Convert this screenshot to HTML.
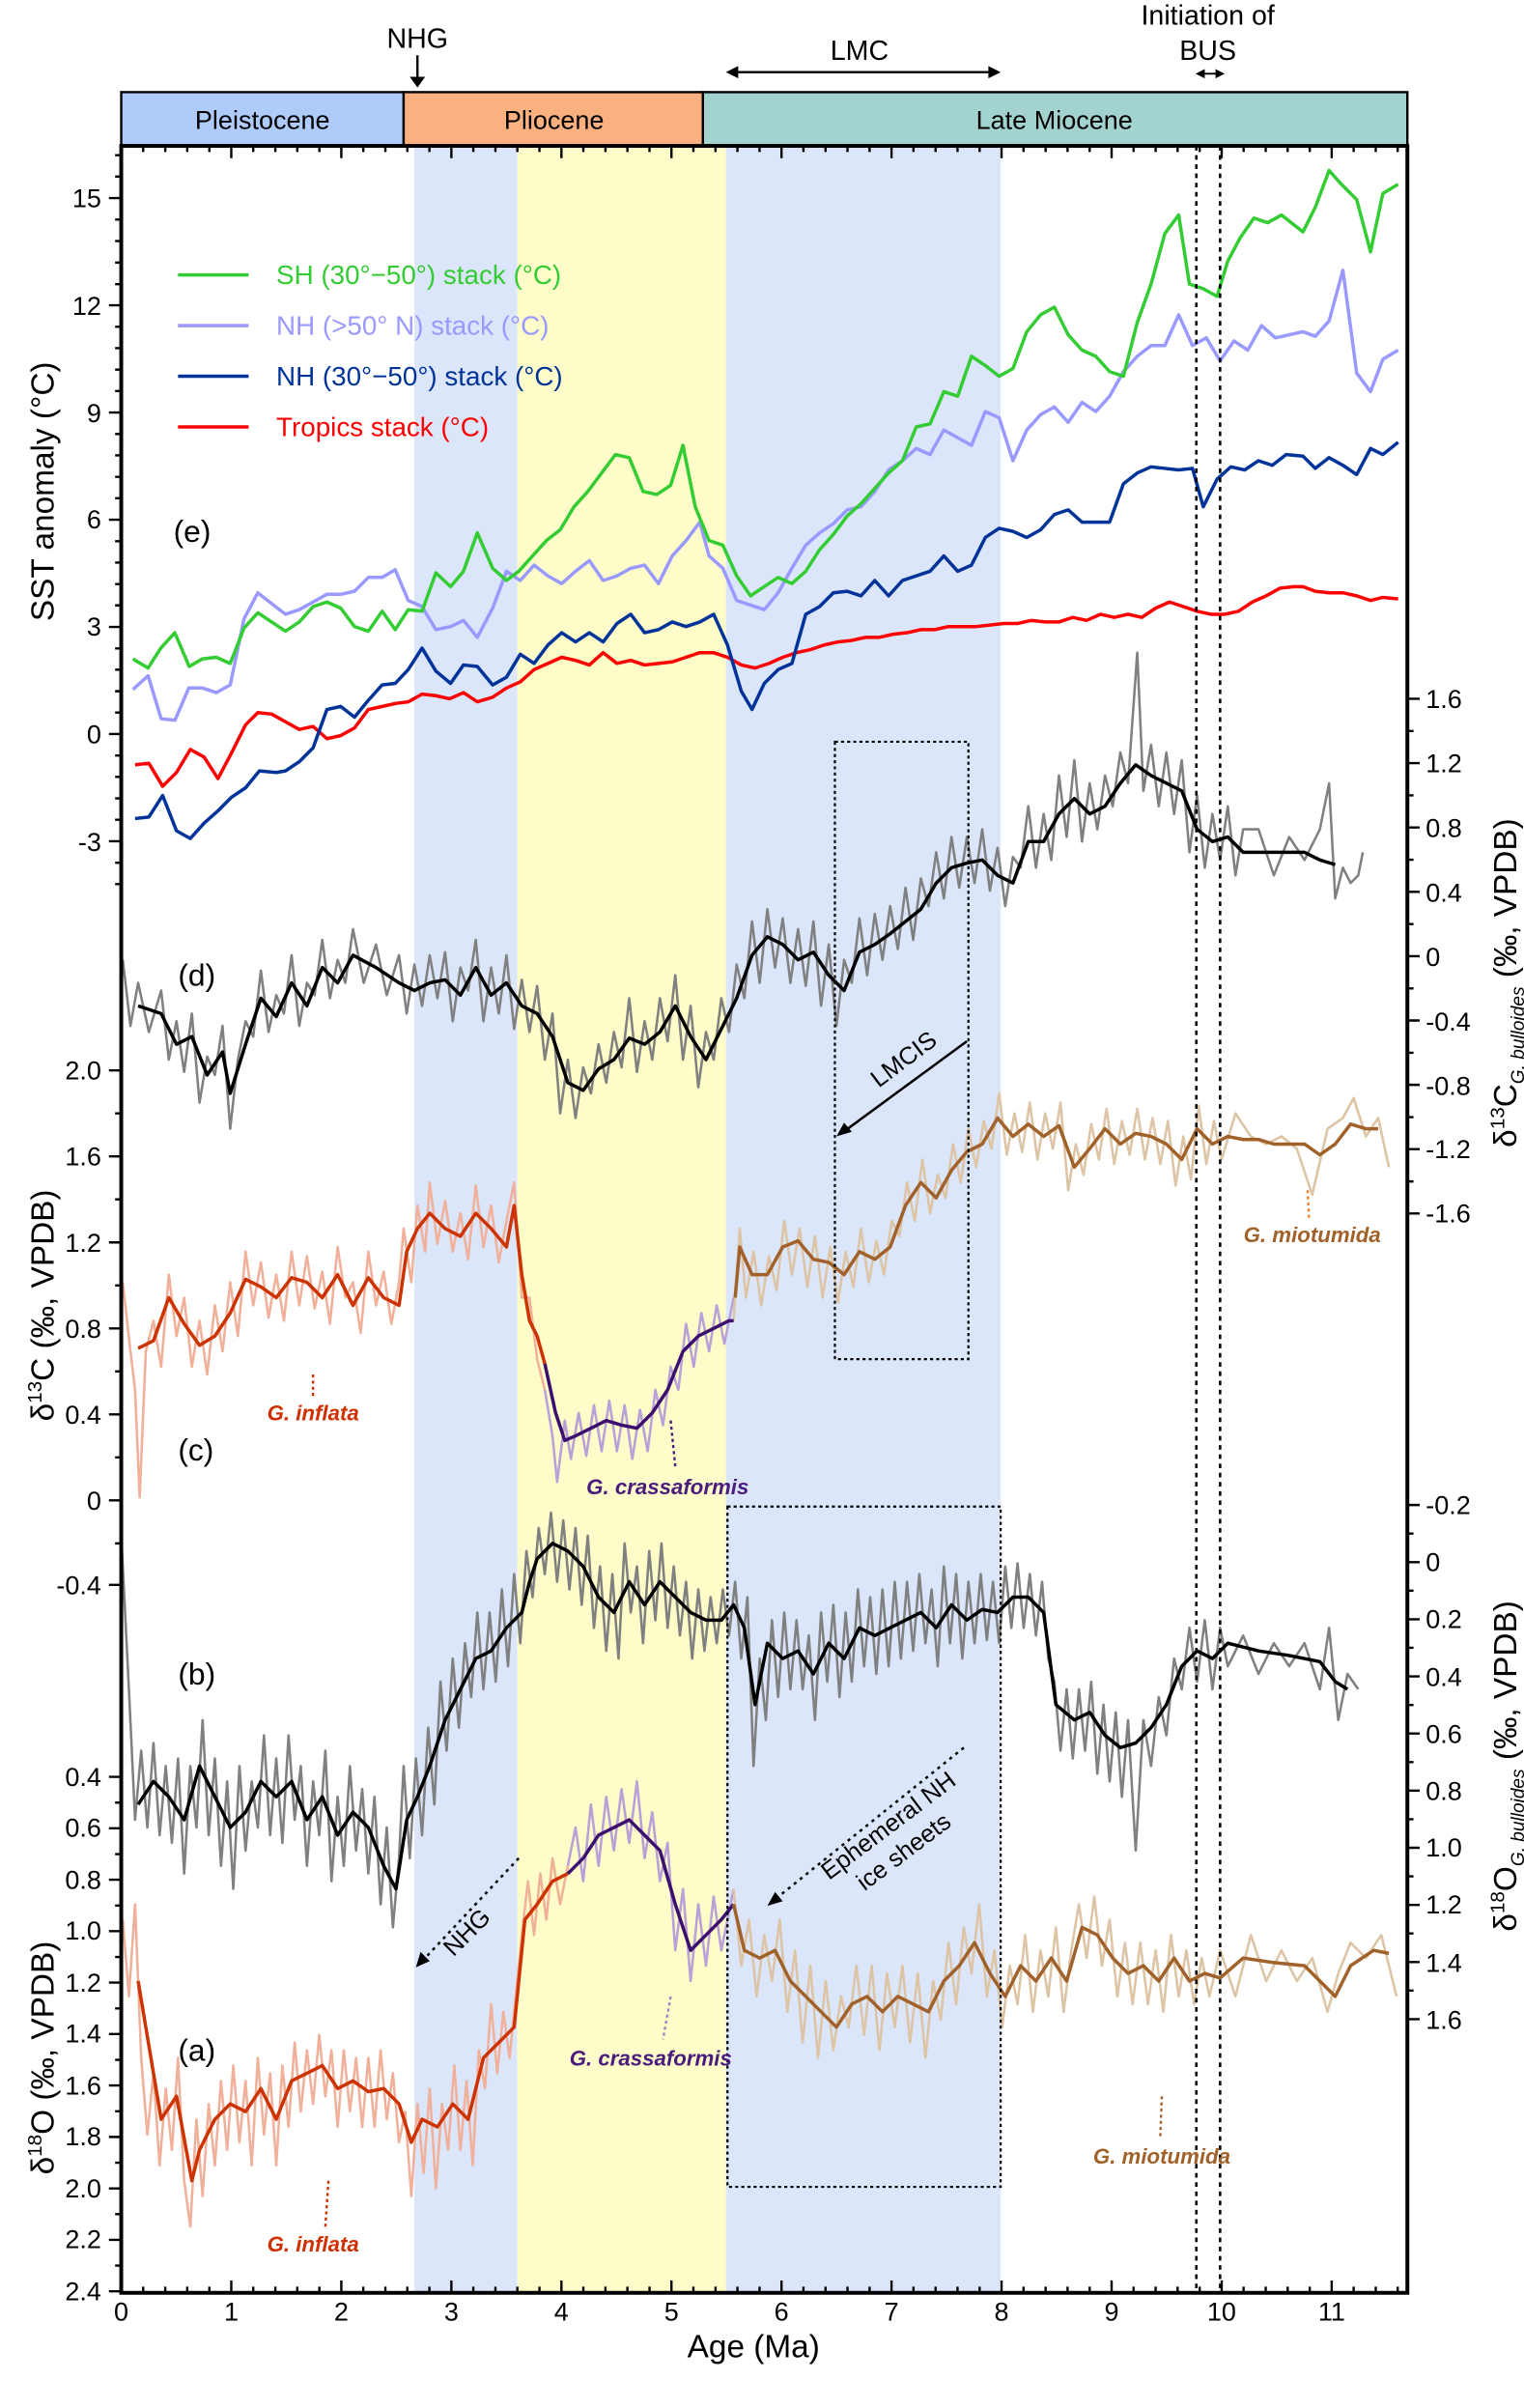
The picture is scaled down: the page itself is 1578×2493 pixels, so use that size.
<!DOCTYPE html>
<html><head><meta charset="utf-8"><style>
html,body{margin:0;padding:0;background:#fff;}
svg{display:block;font-family:"Liberation Sans",Arial,sans-serif;}
</style></head><body>
<svg width="1578" height="2493" viewBox="0 0 993 1568" preserveAspectRatio="none" xmlns="http://www.w3.org/2000/svg">
<rect width="993" height="1568" fill="#fff"/>
<rect x="270" y="95" width="67" height="1398" fill="#dce6fb"/>
<rect x="337" y="95" width="136" height="1398" fill="#fefdc9"/>
<rect x="473" y="95" width="179" height="1398" fill="#dce6fb"/>

<g fill="none" stroke-linejoin="round">
<path stroke="#808080" stroke-width="1.6" d="M80,625 L85,668 L90,640 L97,672 L105,645 L110,690 L115,665 L120,698 L125,660 L130,718 L135,688 L140,700 L145,668 L150,735 L155,690 L160,665 L165,675 L170,632 L175,672 L180,648 L185,660 L190,622 L195,668 L200,640 L205,648 L210,612 L215,650 L220,625 L225,640 L230,605 L237,640 L245,615 L252,648 L260,622 L265,660 L270,628 L275,655 L280,622 L285,650 L290,620 L295,665 L300,630 L305,645 L310,612 L315,665 L320,630 L325,660 L330,622 L335,670 L340,638 L345,672 L350,642 L355,690 L360,660 L365,725 L370,690 L375,728 L380,695 L385,712 L390,680 L395,705 L400,672 L405,695 L410,650 L415,698 L420,665 L425,690 L430,650 L435,678 L440,635 L445,690 L450,655 L455,708 L460,672 L465,690 L470,650 L475,672 L480,628 L485,650 L490,600 L495,640 L500,592 L505,630 L510,598 L515,640 L520,605 L525,642 L530,600 L535,655 L540,615 L545,668 L550,625 L555,640 L560,598 L565,635 L570,595 L575,625 L580,590 L585,618 L590,578 L595,612 L600,572 L605,590 L610,555 L615,585 L620,545 L625,578 L630,545 L635,575 L640,540 L645,580 L650,552 L655,590 L660,558 L665,565 L670,525 L675,565 L680,530 L685,560 L690,505 L695,545 L700,495 L705,548 L710,510 L715,540 L720,505 L725,525 L730,490 L735,510 L741,425 L745,515 L750,485 L755,525 L760,490 L765,530 L770,495 L775,555 L780,518 L785,565 L790,530 L795,560 L800,525 L805,570 L810,540 L820,540 L830,570 L840,545 L850,560 L860,540 L866,510 L870,585 L875,565 L880,575 L885,570 L888,555"/>
<path stroke="#000" stroke-width="2.2" d="M90,655 L105,660 L115,680 L125,675 L135,700 L145,685 L150,712 L160,680 L170,650 L180,662 L190,640 L200,655 L210,630 L220,640 L230,622 L245,630 L260,640 L270,645 L280,640 L290,638 L300,648 L310,630 L320,648 L330,640 L340,655 L350,660 L360,675 L370,705 L380,710 L390,696 L400,690 L410,676 L420,680 L430,672 L440,655 L450,675 L460,690 L470,670 L480,650 L490,622 L500,610 L510,615 L520,625 L530,620 L540,635 L550,645 L560,620 L570,615 L580,608 L590,600 L600,592 L610,575 L620,565 L630,562 L640,560 L650,570 L660,575 L670,548 L680,548 L690,530 L700,520 L710,530 L720,525 L730,510 L740,498 L750,505 L760,510 L770,515 L780,540 L790,548 L800,545 L810,555 L830,555 L850,555 L860,560 L870,563"/>
<path stroke="#f0b09a" stroke-width="1.6" d="M80,835 L85,880 L88,905 L91,975 L95,880 L100,860 L105,890 L110,830 L115,870 L120,845 L125,890 L130,860 L135,895 L140,850 L145,880 L150,835 L155,870 L160,815 L165,850 L170,822 L175,858 L180,830 L185,860 L190,815 L195,850 L200,818 L205,852 L210,828 L215,862 L220,812 L225,845 L230,835 L235,868 L240,815 L245,850 L250,828 L255,862 L260,835 L263,800 L268,835 L272,785 L277,815 L280,770 L285,810 L290,782 L295,815 L300,790 L305,820 L310,772 L315,812 L320,785 L325,822 L330,795 L335,770 L340,845 L345,845 L350,885 L355,905"/>
<path stroke="#b8a0d8" stroke-width="1.6" d="M355,905 L360,935 L363,965 L368,925 L372,950 L377,920 L382,948 L387,915 L392,945 L397,912 L402,945 L407,915 L412,950 L417,918 L422,945 L427,905 L432,928 L437,890 L442,905 L447,862 L452,890 L457,855 L462,880 L467,850 L472,875 L478,845"/>
<path stroke="#dcc4a4" stroke-width="1.6" d="M478,860 L482,800 L486,845 L491,815 L496,850 L501,818 L506,840 L511,795 L516,830 L521,800 L526,838 L531,805 L536,845 L541,812 L546,848 L551,815 L556,838 L561,800 L566,835 L571,808 L576,830 L581,795 L586,805 L591,770 L596,795 L601,755 L606,790 L611,765 L616,780 L621,745 L626,770 L631,735 L636,760 L641,730 L646,748 L651,712 L656,752 L661,725 L666,750 L671,718 L676,755 L681,725 L686,748 L691,718 L696,775 L701,745 L706,765 L711,732 L716,755 L721,722 L726,758 L731,730 L736,752 L741,722 L746,755 L751,728 L756,758 L761,730 L766,772 L771,740 L776,768 L781,720 L786,758 L791,730 L796,755 L805,725 L815,740 L825,745 L835,740 L845,748 L855,778 L865,735 L875,728 L882,715 L890,740 L898,728 L905,760"/>
<path stroke="#cc3300" stroke-width="2.2" d="M90,878 L100,873 L110,845 L120,862 L130,876 L140,870 L150,855 L160,833 L170,838 L180,845 L190,832 L200,835 L210,845 L220,830 L230,850 L240,832 L250,845 L260,850 L265,815 L272,800 L280,790 L290,800 L300,805 L310,790 L320,800 L330,812 L335,785 L340,830 L345,860 L350,870 L355,888"/>
<path stroke="#3d1070" stroke-width="2.2" d="M355,888 L362,920 L368,938 L375,935 L385,930 L395,925 L405,928 L415,930 L425,920 L435,905 L445,880 L455,870 L465,865 L475,860 L478,860"/>
<path stroke="#a0622a" stroke-width="2.2" d="M479,845 L482,812 L490,830 L500,830 L510,812 L520,808 L530,820 L540,822 L550,830 L560,815 L570,820 L580,812 L590,785 L600,770 L610,780 L620,762 L630,750 L640,745 L650,728 L660,740 L670,732 L680,740 L690,733 L700,760 L710,748 L720,735 L730,745 L740,738 L750,740 L760,745 L770,755 L780,735 L790,745 L800,740 L810,742 L820,742 L830,745 L840,745 L850,745 L860,752 L870,745 L880,732 L890,735 L898,735"/>
<path stroke="#808080" stroke-width="1.6" d="M79,1000 L84,1100 L88,1185 L92,1140 L96,1190 L100,1135 L104,1195 L108,1150 L112,1200 L116,1145 L120,1220 L124,1150 L128,1190 L132,1120 L136,1195 L140,1145 L144,1215 L148,1160 L152,1230 L156,1150 L160,1205 L164,1160 L168,1190 L172,1130 L176,1195 L180,1145 L184,1200 L188,1130 L192,1185 L196,1150 L200,1215 L204,1160 L208,1195 L212,1140 L216,1225 L220,1170 L224,1215 L228,1150 L232,1205 L236,1165 L240,1220 L244,1170 L248,1240 L252,1190 L256,1255 L260,1210 L263,1150 L267,1210 L271,1145 L275,1195 L279,1125 L283,1175 L287,1095 L291,1140 L295,1080 L299,1125 L303,1070 L307,1105 L311,1050 L315,1100 L319,1050 L323,1095 L327,1035 L331,1085 L335,1025 L339,1070 L343,1010 L347,1040 L351,995 L355,1025 L359,985 L363,1030 L367,990 L371,1035 L375,995 L379,1045 L383,1000 L387,1060 L391,1020 L395,1075 L399,1025 L403,1080 L407,1005 L411,1050 L415,1020 L419,1070 L423,1010 L427,1055 L431,1005 L435,1060 L439,1020 L443,1065 L447,1030 L451,1080 L455,1035 L459,1075 L463,1040 L467,1070 L471,1035 L475,1065 L479,1030 L483,1080 L487,1040 L491,1150 L495,1080 L499,1120 L503,1055 L507,1105 L511,1050 L515,1100 L519,1055 L523,1100 L527,1065 L531,1120 L535,1050 L539,1095 L543,1045 L547,1105 L551,1050 L555,1095 L559,1035 L563,1085 L567,1040 L571,1090 L575,1035 L579,1085 L583,1030 L587,1080 L591,1030 L595,1075 L599,1025 L603,1070 L607,1035 L611,1085 L615,1020 L619,1070 L623,1025 L627,1080 L631,1030 L635,1070 L639,1025 L643,1068 L647,1030 L651,1070 L655,1020 L659,1060 L663,1018 L667,1060 L671,1025 L675,1065 L679,1030 L683,1080 L687,1095 L691,1140 L695,1100 L699,1145 L703,1100 L707,1140 L711,1095 L715,1155 L719,1110 L723,1160 L727,1115 L731,1170 L735,1120 L740,1205 L745,1120 L750,1150 L755,1105 L760,1130 L765,1080 L770,1100 L775,1060 L780,1095 L785,1055 L790,1100 L795,1060 L800,1085 L810,1065 L820,1090 L830,1070 L840,1085 L850,1070 L860,1100 L866,1060 L872,1120 L878,1090 L885,1100"/>
<path stroke="#000" stroke-width="2.2" d="M90,1175 L100,1160 L110,1170 L120,1185 L130,1150 L140,1170 L150,1190 L160,1180 L170,1160 L180,1170 L190,1160 L200,1185 L210,1170 L220,1195 L230,1180 L240,1190 L250,1215 L258,1230 L265,1185 L272,1170 L280,1150 L290,1120 L300,1100 L310,1080 L320,1075 L330,1060 L340,1050 L345,1030 L350,1015 L360,1005 L370,1010 L380,1020 L390,1040 L400,1050 L410,1030 L420,1045 L430,1030 L440,1040 L450,1050 L460,1055 L470,1055 L478,1045 L485,1060 L492,1110 L500,1070 L510,1080 L520,1075 L530,1090 L540,1070 L550,1080 L560,1060 L570,1065 L580,1060 L590,1055 L600,1050 L610,1060 L620,1045 L630,1055 L640,1048 L650,1050 L660,1040 L670,1040 L680,1050 L688,1110 L700,1120 L710,1115 L720,1130 L730,1138 L740,1135 L750,1125 L760,1110 L770,1085 L780,1075 L790,1080 L800,1070 L820,1075 L840,1078 L860,1082 L870,1095 L878,1100"/>
<path stroke="#f0b09a" stroke-width="1.6" d="M80,1250 L84,1300 L88,1240 L92,1340 L96,1390 L100,1350 L104,1410 L108,1360 L112,1400 L116,1340 L120,1420 L124,1450 L128,1380 L132,1430 L136,1370 L140,1410 L144,1355 L148,1400 L152,1345 L156,1395 L160,1355 L164,1410 L168,1340 L172,1390 L176,1350 L180,1410 L184,1345 L188,1385 L192,1330 L196,1375 L200,1335 L204,1370 L208,1325 L212,1365 L216,1335 L220,1385 L224,1335 L228,1375 L232,1340 L236,1385 L240,1340 L244,1385 L248,1335 L252,1380 L256,1350 L260,1395 L264,1375 L268,1430 L272,1370 L276,1415 L280,1360 L284,1425 L288,1370 L292,1400 L296,1345 L300,1400 L304,1355 L308,1410 L312,1335 L316,1360 L320,1305 L324,1350 L328,1310 L332,1340 L336,1300 L340,1260 L344,1225 L348,1260 L352,1220 L356,1250 L360,1210 L365,1240 L370,1215"/>
<path stroke="#b8a0d8" stroke-width="1.6" d="M370,1215 L375,1190 L380,1225 L385,1175 L390,1215 L395,1170 L400,1205 L405,1165 L410,1200 L415,1160 L420,1210 L425,1180 L430,1225 L435,1200 L440,1270 L445,1230 L450,1290 L455,1240 L460,1280 L465,1235 L470,1270 L478,1230"/>
<path stroke="#dcc4a4" stroke-width="1.6" d="M478,1230 L483,1280 L488,1250 L493,1300 L498,1260 L503,1290 L508,1250 L513,1310 L518,1270 L523,1330 L528,1280 L533,1340 L538,1290 L543,1335 L548,1300 L553,1320 L558,1280 L563,1325 L568,1280 L573,1335 L578,1285 L583,1320 L588,1280 L593,1330 L598,1285 L603,1340 L608,1290 L613,1315 L618,1265 L623,1305 L628,1255 L633,1285 L638,1240 L643,1300 L648,1270 L653,1320 L658,1280 L663,1305 L668,1260 L673,1310 L678,1270 L683,1300 L688,1255 L693,1310 L698,1270 L703,1240 L708,1275 L713,1235 L718,1280 L723,1250 L728,1300 L733,1265 L738,1305 L743,1265 L748,1305 L753,1270 L758,1310 L763,1260 L768,1300 L773,1270 L778,1305 L783,1275 L788,1300 L795,1270 L805,1300 L815,1260 L825,1290 L835,1270 L845,1290 L855,1275 L865,1310 L872,1285 L880,1265 L890,1275 L900,1260 L910,1300"/>
<path stroke="#cc3300" stroke-width="2.2" d="M90,1290 L95,1320 L105,1380 L115,1365 L125,1420 L130,1400 L140,1380 L150,1370 L160,1375 L170,1360 L180,1380 L190,1355 L200,1350 L210,1345 L220,1360 L230,1355 L240,1362 L250,1360 L260,1370 L268,1395 L275,1380 L285,1385 L295,1370 L305,1380 L315,1340 L325,1330 L335,1320 L342,1250 L350,1240 L360,1225 L370,1220"/>
<path stroke="#3d1070" stroke-width="2.2" d="M370,1220 L380,1210 L390,1195 L400,1190 L410,1185 L420,1195 L430,1205 L440,1240 L450,1270 L460,1260 L470,1250 L478,1240"/>
<path stroke="#a0622a" stroke-width="2.2" d="M478,1240 L485,1270 L495,1275 L505,1270 L515,1290 L525,1300 L535,1310 L545,1320 L555,1305 L565,1300 L575,1310 L585,1300 L595,1305 L605,1310 L615,1290 L625,1280 L635,1265 L645,1285 L655,1300 L665,1280 L675,1290 L685,1275 L695,1290 L705,1255 L715,1260 L725,1275 L735,1285 L745,1280 L755,1290 L765,1275 L775,1290 L785,1285 L795,1288 L810,1275 L830,1278 L850,1280 L870,1300 L880,1280 L895,1270 L905,1272"/>
<path stroke="#ff0000" stroke-width="2.2" d="M88,498 L97,497 L106,512 L115,503 L124,488 L133,493 L142,507 L151,490 L160,472 L168,464 L177,465 L186,470 L195,475 L204,473 L213,481 L222,479 L231,474 L240,462 L249,460 L258,458 L266,457 L275,452 L284,453 L293,455 L302,451 L311,457 L321,454 L330,448 L339,444 L348,436 L357,432 L366,428 L375,430 L384,433 L393,425 L402,432 L411,430 L420,433 L429,432 L438,431 L447,428 L456,425 L465,425 L474,428 L483,433 L492,435 L501,432 L510,428 L519,425 L528,423 L537,420 L546,418 L555,417 L564,415 L573,415 L582,413 L591,412 L600,410 L609,410 L618,408 L627,408 L636,408 L645,407 L654,406 L663,406 L672,404 L681,405 L690,405 L699,402 L708,404 L717,400 L726,402 L735,400 L744,402 L753,396 L762,392 L771,395 L780,398 L789,400 L798,400 L807,398 L816,392 L825,388 L834,383 L843,382 L849,382 L857,385 L866,386 L875,386 L884,388 L893,391 L901,389 L911,390"/>
<path stroke="#003399" stroke-width="2.2" d="M88,533 L97,532 L106,518 L115,541 L124,546 L133,536 L142,528 L151,519 L160,513 L169,502 L180,503 L186,502 L195,496 L204,487 L213,462 L222,460 L231,467 L240,456 L249,446 L257.5,445 L266,436 L275,422 L284,437 L293.6,445 L302,433 L311,434 L321,446 L330,441 L339,426 L348,432 L357,420 L366,412 L375,418 L384,412 L393,418 L402,406 L411,400 L420,412 L429,410 L438,405 L447,408 L456,405 L465,400 L474,420 L483,450 L490,462 L498,445 L507,436 L516,432 L525,400 L534,395 L543,386 L552,385 L561,388 L570,378 L579,388 L588,378 L597,375 L606,372 L615,362 L624,372 L633,368 L642,350 L651,344 L660,346 L669,350 L678,345 L687,335 L696,332 L705,340 L714,340 L723,340 L732,315 L741,308 L750,304 L759,305 L768,306 L777,305 L784,330 L793,312 L802,304 L811,306 L820,300 L829,303 L838,296 L849,297 L857,305 L866,298 L875,303 L884,309 L893,292 L901,296 L911,288"/>
<path stroke="#9999ff" stroke-width="2.2" d="M86.6,449 L96.5,440 L105,468 L114,469 L123,448 L132,448 L141,451 L150,446 L159,403 L168,386 L177,393 L186,400 L195,397 L204,392 L213,387 L222,387 L231,385 L240,376 L249,376 L257.5,371 L266,391 L275,395 L284,410 L293.6,408 L302,404 L311,415 L321,396 L330,372 L339,378 L348,368 L357,375 L366,380 L375,372 L384,365 L393,378 L402,375 L411,370 L420,368 L429,380 L438,362 L447,352 L456,340 L462,362 L471,370 L480,391 L489,394 L498,397 L507,386 L516,370 L525,355 L534,347 L543,341 L552,332 L561,330 L570,320 L579,306 L588,300 L597,292 L606,296 L615,280 L624,285 L633,290 L642,268 L651,272 L660,300 L669,280 L678,270 L687,265 L696,275 L705,262 L714,268 L723,258 L732,242 L741,232 L750,225 L759,225 L768,205 L777,225 L786,220 L795,235 L804,222 L813,228 L822,212 L831,220 L849,216 L857,219 L866,209 L875,176 L884,243 L893,255 L901,234 L911,228"/>
<path stroke="#33cc33" stroke-width="2.2" d="M86.6,429 L96.5,435 L104.8,422 L113.9,412 L123.3,434 L132,429 L141,428 L150,432 L159,409 L168,399 L177,405 L186,411 L195,405 L204,395 L213,392 L222,396 L231,408 L240,411 L249,398 L257.5,410 L266,397 L275,398 L284,373 L293.6,382 L302,372 L311,347 L321,370 L330,378 L338,372 L347,362 L356,352 L365,345 L374,330 L383,320 L392,308 L401,296 L410,298 L419,320 L428,322 L437,316 L445,290 L453,330 L462,352 L471,355 L480,375 L489,388 L498,382 L507,376 L516,380 L525,372 L534,358 L543,348 L552,336 L561,328 L570,318 L579,308 L588,300 L597,278 L606,276 L615,255 L624,258 L633,232 L642,238 L651,245 L660,240 L669,216 L678,205 L687,200 L696,218 L705,228 L714,232 L723,242 L732,245 L741,210 L750,185 L759,152 L768,140 L775,185 L784,188 L793,193 L800,170 L808,155 L817,142 L826,145 L835,140 L849,151 L857,135 L866,111 L874,120 L884,130 L893,164 L901,126 L911,120"/>
</g>

<line x1="779.5" y1="95" x2="779.5" y2="1493" stroke="#000" stroke-width="1.6" stroke-dasharray="3,3"/>
<line x1="795" y1="95" x2="795" y2="1493" stroke="#000" stroke-width="1.6" stroke-dasharray="3,3"/>
<rect x="544" y="483" width="87" height="402" fill="none" stroke="#000" stroke-width="1.4" stroke-dasharray="2,2"/>
<rect x="474" y="981" width="178" height="443" fill="none" stroke="#000" stroke-width="1.4" stroke-dasharray="2,2"/>

<rect x="79" y="60" width="184" height="35" fill="#aecbfa" stroke="#000" stroke-width="1.5"/>
<rect x="263" y="60" width="195" height="35" fill="#fbb07f" stroke="#000" stroke-width="1.5"/>
<rect x="458" y="60" width="459" height="35" fill="#a3d3cf" stroke="#000" stroke-width="1.5"/>
<g font-size="17" text-anchor="middle" fill="#000">
<text x="171" y="84">Pleistocene</text><text x="361" y="84">Pliocene</text><text x="687" y="84">Late Miocene</text>
<text x="272" y="31" font-size="18">NHG</text>
<text x="560" y="39" font-size="18">LMC</text>
<text x="787" y="16" font-size="18">Initiation of</text>
<text x="787" y="39" font-size="18">BUS</text>
</g>
<line x1="272" y1="36" x2="272" y2="52" stroke="#000" stroke-width="1.5"/><path d="M267,50 L277,50 L272,57Z"/>
<line x1="478" y1="47" x2="647" y2="47" stroke="#000" stroke-width="1.5"/><path d="M473,47 L481,43 L481,51Z M652,47 L644,43 L644,51Z"/>
<line x1="783" y1="48" x2="794" y2="48" stroke="#000" stroke-width="1.2"/><path d="M779,48 L785,45 L785,51Z M798,48 L792,45 L792,51Z"/>

<rect x="79" y="95" width="838" height="1398" fill="none" stroke="#000" stroke-width="2.5"/>

<g stroke="#000" stroke-width="1.5" fill="none">
<path d="M150.7,95v8M222.4,95v8M294.1,95v8M365.8,95v8M437.5,95v8M509.2,95v8M580.9,95v8M652.6,95v8M724.3,95v8M796,95v8M867.7,95v8
M150.7,1493v-8M222.4,1493v-8M294.1,1493v-8M365.8,1493v-8M437.5,1493v-8M509.2,1493v-8M580.9,1493v-8M652.6,1493v-8M724.3,1493v-8M796,1493v-8M867.7,1493v-8"/>
<path d="M93.3,95v4M107.7,95v4M122,95v4M136.4,95v4M165,95v4M179.4,95v4M193.7,95v4M208.1,95v4M236.7,95v4M251.1,95v4M265.4,95v4M279.8,95v4M308.4,95v4M322.8,95v4M337.1,95v4M351.5,95v4M380.1,95v4M394.5,95v4M408.8,95v4M423.2,95v4M451.8,95v4M466.2,95v4M480.5,95v4M494.9,95v4M523.5,95v4M537.9,95v4M552.2,95v4M566.6,95v4M595.2,95v4M609.6,95v4M623.9,95v4M638.3,95v4M666.9,95v4M681.3,95v4M695.6,95v4M710,95v4M738.6,95v4M753,95v4M767.3,95v4M781.7,95v4M810.3,95v4M824.7,95v4M839,95v4M853.4,95v4M882,95v4M896.4,95v4M910.7,95v4
M93.3,1493v-4M107.7,1493v-4M122,1493v-4M136.4,1493v-4M165,1493v-4M179.4,1493v-4M193.7,1493v-4M208.1,1493v-4M236.7,1493v-4M251.1,1493v-4M265.4,1493v-4M279.8,1493v-4M308.4,1493v-4M322.8,1493v-4M337.1,1493v-4M351.5,1493v-4M380.1,1493v-4M394.5,1493v-4M408.8,1493v-4M423.2,1493v-4M451.8,1493v-4M466.2,1493v-4M480.5,1493v-4M494.9,1493v-4M523.5,1493v-4M537.9,1493v-4M552.2,1493v-4M566.6,1493v-4M595.2,1493v-4M609.6,1493v-4M623.9,1493v-4M638.3,1493v-4M666.9,1493v-4M681.3,1493v-4M695.6,1493v-4M710,1493v-4M738.6,1493v-4M753,1493v-4M767.3,1493v-4M781.7,1493v-4M810.3,1493v-4M824.7,1493v-4M839,1493v-4M853.4,1493v-4M882,1493v-4M896.4,1493v-4M910.7,1493v-4"/>
<path d="M79,101.1h-4M79,115h-4M79,129h-8M79,143h-4M79,157h-4M79,171h-4M79,185h-4M79,198.8h-8M79,212.8h-4M79,226.7h-4M79,240.7h-4M79,254.6h-4M79,268.6h-8M79,282.6h-4M79,296.5h-4M79,310.5h-4M79,324.4h-4M79,338.4h-8M79,352.4h-4M79,366.3h-4M79,380.3h-4M79,394.2h-4M79,408.2h-8M79,422.2h-4M79,436.1h-4M79,450.1h-4M79,464h-4M79,478h-8M79,492h-4M79,505.9h-4M79,519.9h-4M79,533.8h-4M79,547.8h-8M79,561.8h-4M79,575.7h-4"/>
<path d="M79,697h-8M79,725h-4M79,753h-8M79,781h-4M79,809h-8M79,837h-4M79,865h-8M79,893h-4M79,921h-8M79,949h-4M79,977h-8M79,1005h-4M79,1032h-8"/>
<path d="M79,1157h-8M79,1173.8h-4M79,1190.5h-8M79,1207.3h-4M79,1224h-8M79,1240.8h-4M79,1257.5h-8M79,1274.3h-4M79,1291h-8M79,1307.8h-4M79,1324.5h-8M79,1341.3h-4M79,1358h-8M79,1374.8h-4M79,1391.5h-8M79,1408.3h-4M79,1425h-8M79,1441.8h-4M79,1458.5h-8M79,1475.3h-4M79,1492h-8"/>
<path d="M917,455h8M917,476h4M917,496.9h8M917,517.9h4M917,538.8h8M917,559.8h4M917,580.7h8M917,601.7h4M917,622.6h8M917,643.6h4M917,664.5h8M917,685.5h4M917,706.4h8M917,727.4h4M917,748.3h8M917,769.3h4M917,790.2h8"/>
<path d="M917,980h8M917,998.6h4M917,1017.2h8M917,1035.8h4M917,1054.4h8M917,1073h4M917,1091.6h8M917,1110.2h4M917,1128.8h8M917,1147.4h4M917,1166h8M917,1184.6h4M917,1203.2h8M917,1221.8h4M917,1240.4h8M917,1259h4M917,1277.6h8M917,1296.2h4M917,1314.8h8"/>
</g>

<g font-size="17" fill="#000" text-anchor="middle">
<text x="79" y="1511">0</text><text x="150.7" y="1511">1</text><text x="222.4" y="1511">2</text><text x="294.1" y="1511">3</text><text x="365.8" y="1511">4</text><text x="437.5" y="1511">5</text><text x="509.2" y="1511">6</text><text x="580.9" y="1511">7</text><text x="652.6" y="1511">8</text><text x="724.3" y="1511">9</text><text x="796" y="1511">10</text><text x="867.7" y="1511">11</text>
</g>
<g font-size="17" fill="#000" text-anchor="end">
<text x="66" y="135">15</text><text x="66" y="205">12</text><text x="66" y="275">9</text><text x="66" y="344">6</text><text x="66" y="414">3</text><text x="66" y="484">0</text><text x="66" y="554">-3</text>
<text x="66" y="703">2.0</text><text x="66" y="759">1.6</text><text x="66" y="815">1.2</text><text x="66" y="871">0.8</text><text x="66" y="927">0.4</text><text x="66" y="983">0</text><text x="66" y="1038">-0.4</text>
<text x="66" y="1163">0.4</text><text x="66" y="1196">0.6</text><text x="66" y="1230">0.8</text><text x="66" y="1263">1.0</text><text x="66" y="1297">1.2</text><text x="66" y="1330">1.4</text><text x="66" y="1364">1.6</text><text x="66" y="1397">1.8</text><text x="66" y="1431">2.0</text><text x="66" y="1464">2.2</text><text x="66" y="1498">2.4</text>
</g>
<g font-size="17" fill="#000">
<text x="929" y="461">1.6</text><text x="929" y="503">1.2</text><text x="929" y="545">0.8</text><text x="929" y="587">0.4</text><text x="929" y="629">0</text><text x="929" y="671">-0.4</text><text x="929" y="713">-0.8</text><text x="929" y="754">-1.2</text><text x="929" y="796">-1.6</text>
<text x="929" y="986">-0.2</text><text x="929" y="1023">0</text><text x="929" y="1060">0.2</text><text x="929" y="1098">0.4</text><text x="929" y="1135">0.6</text><text x="929" y="1172">0.8</text><text x="929" y="1209">1.0</text><text x="929" y="1246">1.2</text><text x="929" y="1284">1.4</text><text x="929" y="1321">1.6</text>
</g>

<g stroke-width="2.2">
<line x1="116" y1="179" x2="162" y2="179" stroke="#33cc33"/>
<line x1="116" y1="212" x2="162" y2="212" stroke="#9999ff"/>
<line x1="116" y1="245" x2="162" y2="245" stroke="#003399"/>
<line x1="116" y1="278" x2="162" y2="278" stroke="#ff0000"/>
</g>
<g font-size="17.5">
<text x="180" y="185" fill="#33cc33">SH (30°−50°) stack (°C)</text>
<text x="180" y="218" fill="#9999ff">NH (&gt;50° N) stack (°C)</text>
<text x="180" y="251" fill="#003399">NH (30°−50°) stack (°C)</text>
<text x="180" y="284" fill="#ff0000">Tropics stack (°C)</text>
</g>
<g font-size="20">
<text x="113" y="353">(e)</text><text x="116" y="642">(d)</text><text x="116" y="951">(c)</text><text x="116" y="1097">(b)</text><text x="116" y="1342">(a)</text>
</g>
<g font-size="21">
<text transform="translate(35,320) rotate(-90)" text-anchor="middle">SST anomaly (°C)</text>
<text transform="translate(35,850) rotate(-90)" text-anchor="middle">δ<tspan font-size="13" dy="-8">13</tspan><tspan dy="8">C (‰, VPDB)</tspan></text>
<text transform="translate(35,1340) rotate(-90)" text-anchor="middle">δ<tspan font-size="13" dy="-8">18</tspan><tspan dy="8">O (‰, VPDB)</tspan></text>
<text transform="translate(988,640) rotate(-90)" text-anchor="middle">δ<tspan font-size="13" dy="-8">13</tspan><tspan dy="8">C</tspan><tspan font-size="12" font-style="italic" dy="5">G. bulloides</tspan><tspan dy="-5"> (‰, VPDB)</tspan></text>
<text transform="translate(988,1150) rotate(-90)" text-anchor="middle">δ<tspan font-size="13" dy="-8">18</tspan><tspan dy="8">O</tspan><tspan font-size="12" font-style="italic" dy="5">G. bulloides</tspan><tspan dy="-5"> (‰, VPDB)</tspan></text>
<text x="491" y="1535" text-anchor="middle">Age (Ma)</text>
</g>
<g font-size="14" font-weight="bold" font-style="italic" text-anchor="middle">
<text x="204" y="925" fill="#d03000">G. inflata</text>
<text x="435" y="973" fill="#4b1a7d">G. crassaformis</text>
<text x="855" y="809" fill="#a0622a">G. miotumida</text>
<text x="424" y="1345" fill="#4b1a7d">G. crassaformis</text>
<text x="757" y="1409" fill="#a0622a">G. miotumida</text>
<text x="204" y="1466" fill="#d03000">G. inflata</text>
</g>
<g stroke-width="1.5" stroke-dasharray="2,2">
<line x1="204" y1="895" x2="204" y2="910" stroke="#d03000"/>
<line x1="437" y1="925" x2="440" y2="955" stroke="#4b1a7d"/>
<line x1="852" y1="775" x2="853" y2="795" stroke="#f08030"/>
<line x1="437" y1="1300" x2="432" y2="1328" stroke="#9a86c0"/>
<line x1="757" y1="1365" x2="756" y2="1392" stroke="#a0622a"/>
<line x1="214" y1="1420" x2="212" y2="1450" stroke="#d03000"/>
</g>
<text transform="translate(592,694) rotate(-37)" font-size="16" text-anchor="middle">LMCIS</text>
<line x1="630" y1="678" x2="551" y2="736" stroke="#000" stroke-width="1.6"/><path d="M545,740 L550,731 L555,737Z"/>
<text transform="translate(582,1193) rotate(-37)" font-size="16" text-anchor="middle">Ephemeral NH</text>
<text transform="translate(592,1210) rotate(-37)" font-size="16" text-anchor="middle">ice sheets</text>
<line x1="628" y1="1138" x2="506" y2="1236" stroke="#000" stroke-width="1.6" stroke-dasharray="2,3"/><path d="M500,1241 L505,1232 L510,1238Z"/>
<text transform="translate(308,1262) rotate(-45)" font-size="16" text-anchor="middle">NHG</text>
<line x1="338" y1="1210" x2="277" y2="1275" stroke="#000" stroke-width="1.6" stroke-dasharray="2,3"/><path d="M271,1281 L274,1271 L280,1277Z"/>
</svg>
</body></html>
